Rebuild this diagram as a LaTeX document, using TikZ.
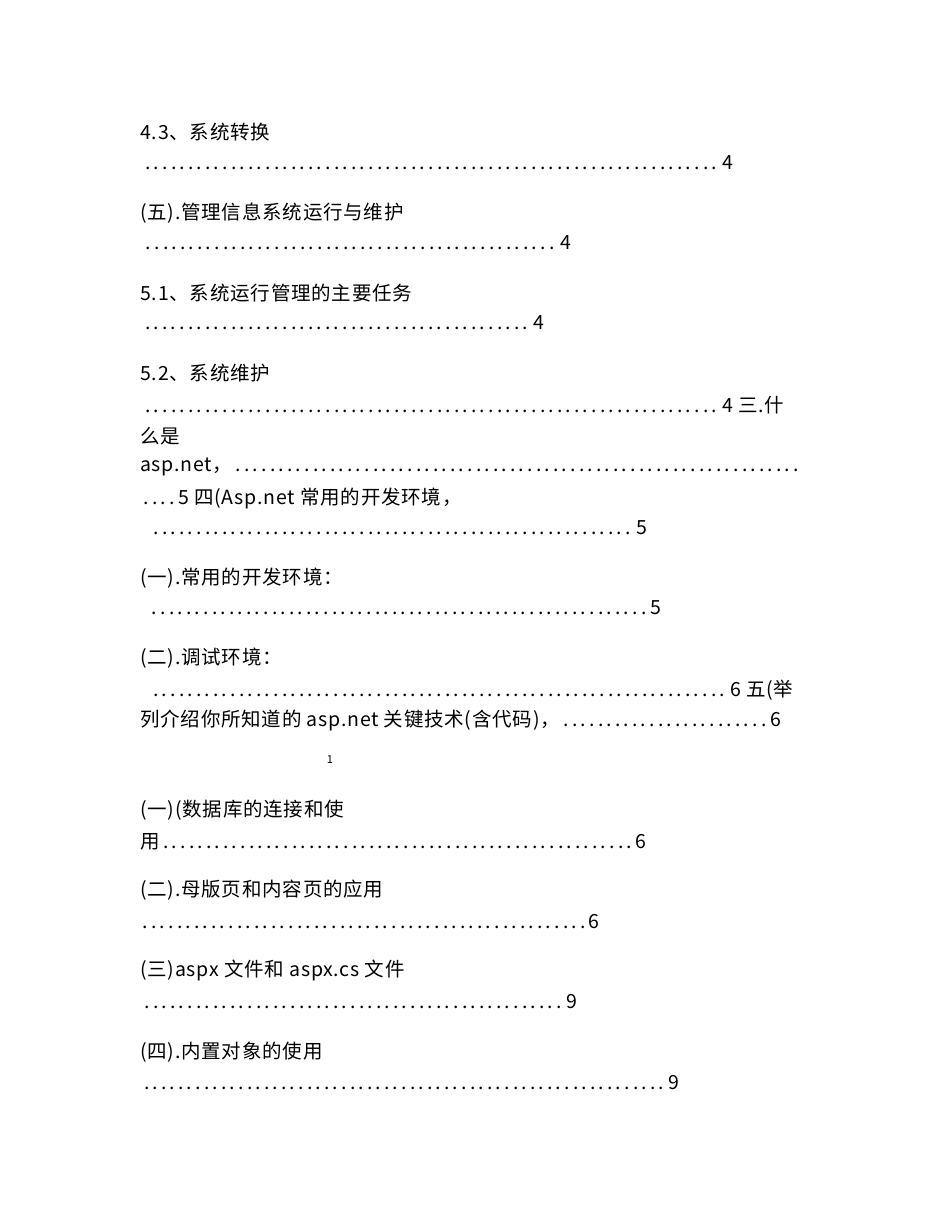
\documentclass[tikz,border=0pt]{standalone}
\usepackage{fontspec}
\setmainfont{Noto Sans CJK SC}[LetterSpace=4]
\newcommand{\lead}[1]{\makebox[#1pt]{\dotfill}}
\begin{document}
\begin{tikzpicture}
            [x=1pt, y=-1pt, tocline/.style={anchor=west, inner sep=0pt, font=\fontsize{19.5}{19.5}\selectfont}]
            \useasboundingbox (0, 0) rectangle (950, 1230);
            \node[tocline] (l1) at (140, 132) {4.3、系统转换};
            \node[tocline] (d1) at (140, 163) {\lead{582}4};
            \node[tocline] (l2) at (140, 213) {(五).管理信息系统运行与维护};
            \node[tocline] (d2) at (140, 243) {\lead{420}4};
            \node[tocline] (l3) at (140, 293) {5.1、系统运行管理的主要任务};
            \node[tocline] (d3) at (140, 323) {\lead{393}4};
            \node[tocline] (l4) at (140, 373) {5.2、系统维护};
            \node[tocline] (d4) at (140, 405) {\lead{582}4\ 三.什};
            \node[tocline] (l5) at (140, 436) {么是};
            \node[tocline] (l6) at (140, 467) {asp.net，\lead{570}};
            \node[tocline] (d6) at (140, 498) {\lead{38}5\ 四(Asp.net 常用的开发环境，};
            \node[tocline] (d7) at (148, 528) {\lead{488}5};
            \node[tocline] (l8) at (140, 578) {(一).常用的开发环境：};
            \node[tocline] (d8) at (148, 608) {\lead{502}5};
            \node[tocline] (l9) at (140, 658) {(二).调试环境：};
            \node[tocline] (d9) at (148, 690) {\lead{582}6\ 五(举};
            \node[tocline] (l10) at (140, 720) {列介绍你所知道的 asp.net 关键技术(含代码)，\lead{210}6};
            \node[inner sep=0pt, font=\fontsize{11}{11}\selectfont] (pg) at (330, 760) {1};
            \node[tocline] (l11) at (140, 810) {(一)(数据库的连接和使};
            \node[tocline] (d11) at (140, 842) {用\lead{476}6};
            \node[tocline] (l12) at (140, 890) {(二).母版页和内容页的应用};
            \node[tocline] (d12) at (140, 922) {\lead{448}6};
            \node[tocline] (l13) at (140, 970) {(三)aspx 文件和 aspx.cs 文件};
            \node[tocline] (d13) at (140, 1002) {\lead{426}9};
            \node[tocline] (l14) at (140, 1052) {(四).内置对象的使用};
            \node[tocline] (d14) at (140, 1083) {\lead{528}9};
        \end{tikzpicture}
\end{document}
